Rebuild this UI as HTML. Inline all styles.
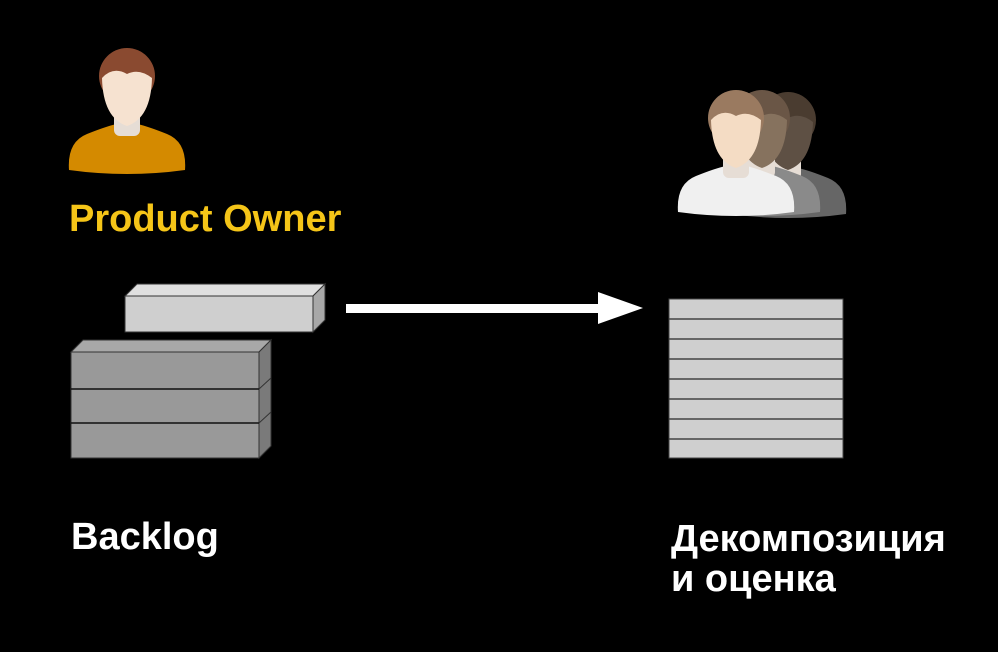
<!DOCTYPE html>
<html><head><meta charset="utf-8"><style>
body{margin:0;background:#000;width:998px;height:652px;overflow:hidden;position:relative;font-family:"Liberation Sans",sans-serif;font-weight:bold}
.t{position:absolute;font-size:38px;color:#fff;line-height:40px;white-space:nowrap}
</style></head><body>
<svg width="998" height="652" style="position:absolute;left:0;top:0">
<defs>
<g id="p">
<path d="M2,126 Q0,98 20,90 Q40,82 50,80 L70,80 Q80,82 100,90 Q120,98 118,126 Q60,134 2,126Z" fill="var(--s)"/>
<rect x="47" y="62" width="26" height="30" rx="6" fill="#e6ddd5"/>
<ellipse cx="60" cy="32" rx="28" ry="28" fill="var(--h)"/>
<path d="M35,34 Q36,74 60,82 Q84,74 85,34 Q72,24 60,30 Q46,22 35,34Z" fill="var(--f)"/>
</g>
</defs>
<g transform="translate(67,44)" style="--s:#d48a00;--h:#8a4a30;--f:#f6e2d0"><use href="#p"/></g>
<g transform="translate(728,88)" style="--s:#666;--h:#4a3c30;--f:#5e5044"><use href="#p"/></g>
<g transform="translate(702,86)" style="--s:#8a8a8a;--h:#6a5646;--f:#86725e"><use href="#p"/></g>
<g transform="translate(676,86)" style="--s:#f0f0f0;--h:#9a7a60;--f:#f4dcc4"><use href="#p"/></g>
<polygon points="125,296 137,284 325,284 313,296" fill="#e0e0e0" stroke="#333"/>
<polygon points="313,296 325,284 325,320 313,332" fill="#a8a8a8" stroke="#333"/>
<rect x="125" y="296" width="188" height="36" fill="#cfcfcf" stroke="#333"/>
<polygon points="71,352 83,340 271,340 259,352" fill="#a8a8a8" stroke="#333"/>
<polygon points="259,352 271,340 271,446 259,458" fill="#7a7a7a" stroke="#333"/>
<rect x="71" y="352" width="188" height="106" fill="#999" stroke="#333"/>
<line x1="71" y1="389" x2="259" y2="389" stroke="#111" stroke-width="1.5"/>
<line x1="71" y1="423" x2="259" y2="423" stroke="#111" stroke-width="1.5"/>
<line x1="259" y1="389" x2="271" y2="378" stroke="#333"/>
<line x1="259" y1="423" x2="271" y2="412" stroke="#333"/>
<rect x="346" y="304" width="258" height="9" fill="#fff"/>
<polygon points="598,292 643,308 598,324" fill="#fff"/>
<rect x="669" y="299" width="174" height="159" fill="#cfcfcf" stroke="#444"/>
<g stroke="#444" stroke-width="1.5">
<line x1="669" y1="319" x2="843" y2="319"/><line x1="669" y1="339" x2="843" y2="339"/>
<line x1="669" y1="359" x2="843" y2="359"/><line x1="669" y1="379" x2="843" y2="379"/>
<line x1="669" y1="399" x2="843" y2="399"/><line x1="669" y1="419" x2="843" y2="419"/>
<line x1="669" y1="439" x2="843" y2="439"/>
</g>
</svg>
<div class="t" style="left:69px;top:199px;color:#f5c518">Product Owner</div>
<div class="t" style="left:71px;top:517px">Backlog</div>
<div class="t" style="left:671px;top:519px;font-family:'Liberation Sans','DejaVu Sans',sans-serif">Декомпозиция<br>и оценка</div>
</body></html>
